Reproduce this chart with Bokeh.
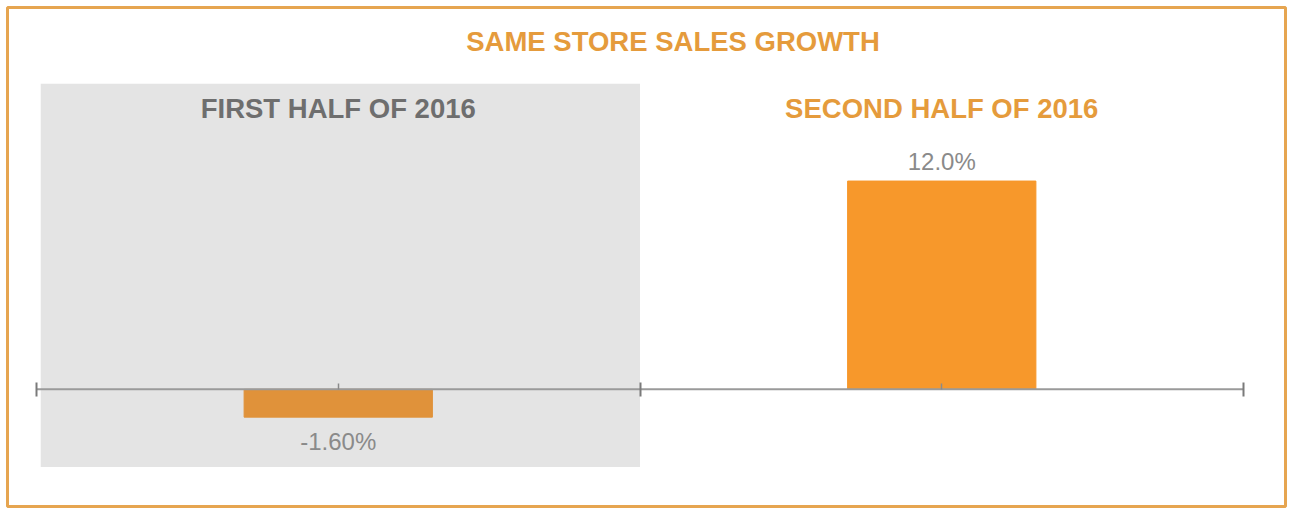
from bokeh.plotting import figure
from bokeh.models import ColumnDataSource, Range1d, FixedTicker, BoxAnnotation, Label
from bokeh.core.properties import value
from bokeh.embed import file_html
from bokeh.resources import INLINE

# ---- data ----
title_text = "SAME STORE SALES GROWTH"
categories = ["FIRST HALF OF 2016", "SECOND HALF OF 2016"]
growth = [-1.6, 12.0]
value_labels = ["-1.60%", "12.0%"]
bar_colors = ["#E0923A", "#F7982B"]
header_colors = ["#6E6E6E", "#E59B3C"]

n = len(categories)
x_pos = [i + 0.5 for i in range(n)]
label_offsets = [24 if v < 0 else -20 for v in growth]

src = ColumnDataSource(dict(
    x=x_pos, top=growth, cat=categories, lab=value_labels,
    color=bar_colors, hcolor=header_colors, loff=label_offsets,
))

FONT = "Liberation Sans"
W, H = 1292, 513
# pixel layout of the category axis inside the card
AX_L, AX_R = 36, 1243
u = n / (AX_R - AX_L)
p = figure(width=W, height=H, output_backend="svg", toolbar_location=None,
           x_range=Range1d(-AX_L * u, n + (W - AX_R) * u),
           y_range=Range1d(-7.15, 22.40),
           y_axis_location=None, min_border=0,
           background_fill_color="white", border_fill_color="white")
p.outline_line_color = None
p.grid.visible = False

# outer orange border of the card
p.add_layout(BoxAnnotation(left=7, right=W - 7, top=7, bottom=H - 7,
                           left_units="canvas", right_units="canvas",
                           top_units="canvas", bottom_units="canvas",
                           fill_alpha=0, line_color="#E6A550", line_alpha=1.0,
                           line_width=3, level="overlay"))

# shaded first-half panel
p.add_layout(BoxAnnotation(left=0.007, right=1.0, top=17.6, bottom=-4.47,
                           fill_color="#E4E4E4", fill_alpha=1.0, line_color=None,
                           level="underlay"))

p.vbar(x="x", top="top", bottom=0, width=0.312, color="color", source=src)

# axis line along the categories
p.segment(x0=[0], y0=[0], x1=[n], y1=[0], line_color="#9A9A9A", line_width=2)

ax = p.xaxis[0]
ax.fixed_location = 0
ax.ticker = FixedTicker(ticks=list(range(n + 1)), minor_ticks=x_pos)
ax.major_label_text_color = None
ax.axis_line_color = None
ax.major_tick_line_color = "#7A7A7A"
ax.major_tick_line_width = 2
ax.major_tick_in = 7
ax.major_tick_out = 7
ax.minor_tick_line_color = "#8A8A8A"
ax.minor_tick_line_width = 1.5
ax.minor_tick_in = 6
ax.minor_tick_out = 0

# value labels
p.text(x="x", y="top", text="lab", y_offset="loff", source=src,
       text_align="center", text_baseline="middle",
       text_font=value(FONT), text_font_size="24px", text_color="#8A8A8A")

# category headers
p.text(x="x", y=16.2, text="cat", source=src, text_color="hcolor",
       text_align="center", text_baseline="middle",
       text_font=value(FONT), text_font_size="27.5px", text_font_style="bold")

p.add_layout(Label(x=1.0, y=20.06, x_offset=33, text=title_text,
                   text_align="center", text_baseline="middle",
                   text_font=FONT, text_font_size="27.5px", text_font_style="bold",
                   text_color="#E59B3C"))

open("out.html", "w").write(file_html(p, INLINE))
